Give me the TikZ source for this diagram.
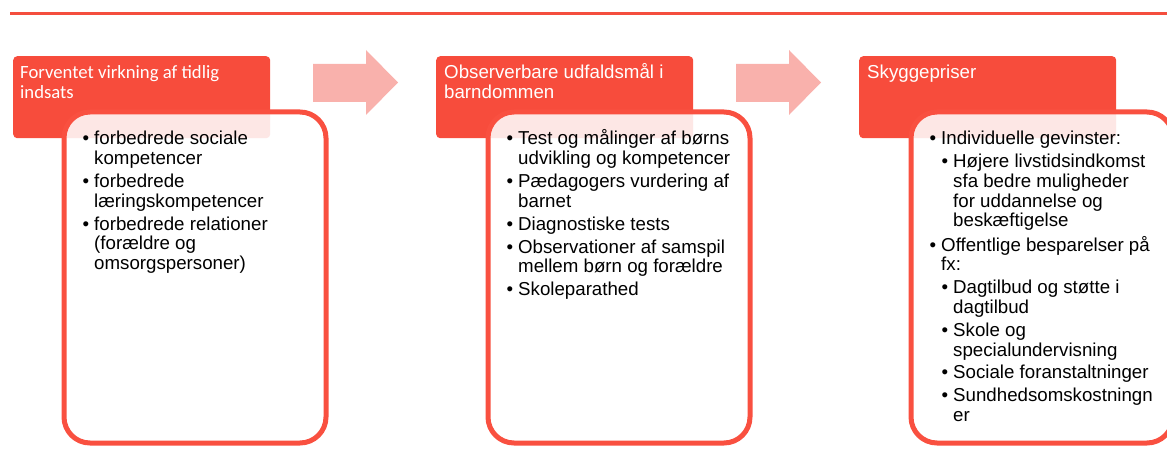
\documentclass[tikz,border=0pt]{standalone}
\usepackage{fontspec}
\setmainfont{Liberation Sans}
\newfontfamily\calfont{Carlito}
\definecolor{hdred}{HTML}{F74C3C}
\definecolor{bordred}{HTML}{F95040}
\definecolor{linered}{HTML}{F44E3E}
\definecolor{arrpink}{HTML}{F9B1AC}
\newcommand\bul{\llap{\textbullet\hspace{5pt}}}
\newcommand\subi{\hspace{12pt}}
\newcommand\igap{3.2pt}
\tikzset{
  header/.style={rectangle, rounded corners=4pt, fill=hdred, draw=none,
    minimum width=257pt, minimum height=82pt, inner sep=0pt, anchor=north west},
  panel/.style={rectangle, rounded corners=26pt, draw=bordred, line width=5pt,
    fill=white, fill opacity=0.87, minimum width=262pt, minimum height=331pt, inner sep=0pt},
  htext/.style={text=white, inner sep=0pt, anchor=base west, font=\fontsize{18.7}{20}\selectfont},
  body/.style={text=black, inner sep=0pt, anchor=base west, font=\fontsize{18.7}{19.7}\selectfont},
  flowarrow/.style={fill=arrpink, draw=none}
}
\begin{document}
\begin{tikzpicture}[x=1pt,y=-1pt]
\useasboundingbox (0,0) rectangle (1167,473);
\begin{scope}
\clip (0,0) rectangle (1167,473);
% top rule
\coordinate (tl) at (10,13.7);
\coordinate (tr) at (1167,13.7);
\draw[linered, line width=3.5pt] (tl) -- (tr);
% headers
\node[header] (h1) at (13,56) {};
\node[header] (h2) at (436,56) {};
\node[header] (h3) at (859,56) {};
% panels
\node[panel] (b1) at (195,277.5) {};
\node[panel] (b2) at (619,277.5) {};
\node[panel] (b3) at (1042,277.5) {};
% header texts
\node[htext, font=\calfont\fontsize{18.7}{20}\selectfont] (ht1) at (20,79)
  {\begin{tabular}[t]{@{}l@{}}Forventet virkning af tidlig\\indsats\end{tabular}};
\node[htext] (ht2) at (444,79)
  {\begin{tabular}[t]{@{}l@{}}Observerbare udfaldsmål i\\barndommen\end{tabular}};
\node[htext] (ht3) at (867,79)
  {\begin{tabular}[t]{@{}l@{}}Skyggepriser\end{tabular}};
% arrows
\fill[flowarrow] (313,64) -- (366,64) -- (366,50) -- (398,82.5) -- (366,115) -- (366,102) -- (313,102) -- cycle;
\fill[flowarrow] (736,64) -- (789,64) -- (789,50) -- (821,82.5) -- (789,115) -- (789,102) -- (736,102) -- cycle;
% body texts
\node[body] (t1) at (94,145) {\begin{tabular}[t]{@{}l@{}}
\bul forbedrede sociale\\
kompetencer\\[\igap]
\bul forbedrede\\
læringskompetencer\\[\igap]
\bul forbedrede relationer\\
(forældre og\\
omsorgspersoner)
\end{tabular}};
\node[body] (t2) at (518,145) {\begin{tabular}[t]{@{}l@{}}
\bul Test og målinger af børns\\
udvikling og kompetencer\\[\igap]
\bul Pædagogers vurdering af\\
barnet\\[\igap]
\bul Diagnostiske tests\\[\igap]
\bul Observationer af samspil\\
mellem børn og forældre\\[\igap]
\bul Skoleparathed
\end{tabular}};
\node[body] (t3) at (941,145) {\begin{tabular}[t]{@{}l@{}}
\bul Individuelle gevinster:\\[\igap]
\subi\bul Højere livstidsindkomst\\
\subi sfa bedre muligheder\\
\subi for uddannelse og\\
\subi beskæftigelse\\[\igap]
\bul Offentlige besparelser på\\
fx:\\[\igap]
\subi\bul Dagtilbud og støtte i\\
\subi dagtilbud\\[\igap]
\subi\bul Skole og\\
\subi specialundervisning\\[\igap]
\subi\bul Sociale foranstaltninger\\[\igap]
\subi\bul Sundhedsomskostningn\\
\subi er
\end{tabular}};
\end{scope}
\end{tikzpicture}
\end{document}
